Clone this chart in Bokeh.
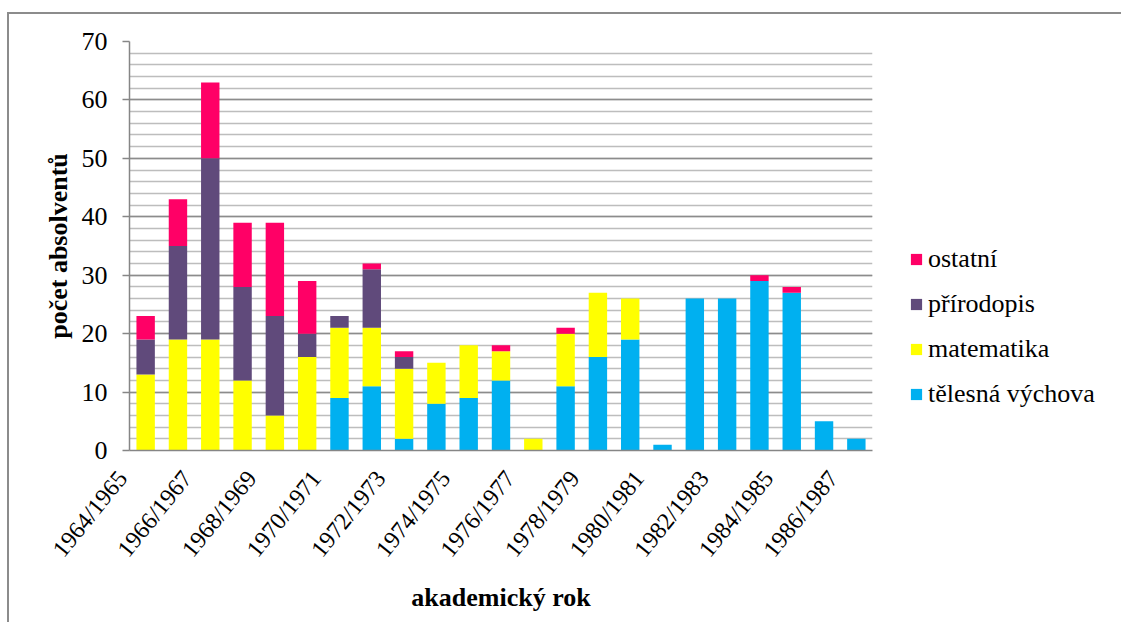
import numpy as np
from bokeh.plotting import figure
from bokeh.models import (ColumnDataSource, Range1d, FixedTicker, CustomJSTickFormatter,
                          Legend, LegendItem)
from bokeh.embed import file_html
from bokeh.resources import INLINE

years = ["1964/1965", "1965/1966", "1966/1967", "1967/1968", "1968/1969", "1969/1970",
         "1970/1971", "1971/1972", "1972/1973", "1973/1974", "1974/1975", "1975/1976",
         "1976/1977", "1977/1978", "1978/1979", "1979/1980", "1980/1981", "1981/1982",
         "1982/1983", "1983/1984", "1984/1985", "1985/1986", "1986/1987"]
telesna = [0, 0, 0, 0, 0, 0, 9, 11, 2, 8, 9, 12, 0, 11, 16, 19, 1, 26, 26, 29, 27, 5, 2]
matematika = [13, 19, 19, 12, 6, 16, 12, 10, 12, 7, 9, 5, 2, 9, 11, 7, 0, 0, 0, 0, 0, 0, 0]
prirodopis = [6, 16, 31, 16, 17, 4, 2, 10, 2, 0, 0, 0, 0, 0, 0, 0, 0, 0, 0, 0, 0, 0, 0]
ostatni = [4, 8, 13, 11, 16, 9, 0, 1, 1, 0, 0, 1, 0, 1, 0, 0, 0, 0, 0, 1, 1, 0, 0]

series = ["tělesná výchova", "matematika", "přírodopis", "ostatní"]
colors = ["#00B0F0", "#FFFF00", "#604A7B", "#FF0066"]
y_ticks = list(range(0, 71, 10))
y_minor = list(range(0, 71, 2))

src = ColumnDataSource(dict(x=list(range(len(years))), t=telesna, m=matematika,
                            p=prirodopis, o=ostatni))

FONT = "Liberation Serif"

p = figure(frame_width=743, frame_height=409, output_backend="svg", toolbar_location=None,
           x_range=Range1d(-0.5, len(years) - 0.5), y_range=Range1d(0, 70),
           min_border_left=120, min_border_right=0, min_border_top=27,
           min_border_bottom=172)
p.styles = {"margin-left": "7px", "margin-top": "12px",
            "border-left": "2px solid #8C8C8C", "border-top": "2px solid #8C8C8C"}
p.outline_line_color = None
p.background_fill_color = "white"
p.border_fill_color = "white"

rs = p.vbar_stack(["t", "m", "p", "o"], x="x", width=0.57, color=colors, source=src,
                  line_color=None)

# y axis
p.yaxis.ticker = FixedTicker(ticks=y_ticks, minor_ticks=y_minor)
p.yaxis.major_label_text_font = FONT
p.yaxis.major_label_text_font_size = "26px"
p.yaxis.major_label_text_color = "black"
p.yaxis.axis_line_color = "#868686"
p.yaxis.axis_line_width = 1.5
p.yaxis.major_tick_line_color = "#868686"
p.yaxis.major_tick_line_width = 1.5
p.yaxis.major_tick_in = 0
p.yaxis.major_tick_out = 7
p.yaxis.minor_tick_line_color = None
p.yaxis.major_label_standoff = 15
p.yaxis.axis_label = "počet absolventů"
p.yaxis.axis_label_text_font = FONT
p.yaxis.axis_label_text_font_style = "bold"
p.yaxis.axis_label_text_font_size = "26px"
p.yaxis.axis_label_text_color = "black"
p.yaxis.axis_label_standoff = 6

# x axis
offset = 0.49
p.xaxis.ticker = FixedTicker(ticks=[i - offset for i in range(0, len(years), 2)])
p.xaxis.formatter = CustomJSTickFormatter(
    args=dict(labels=years, off=offset),
    code="const s = labels[Math.round(tick + off)]; return s ? s + '\\u00a0\\u00a0' : '';")
p.xaxis.major_label_orientation = 0.89
p.xaxis.major_label_text_font = FONT
p.xaxis.major_label_text_font_size = "24px"
p.xaxis.major_label_text_color = "black"
p.xaxis.major_tick_line_color = None
p.xaxis.minor_tick_line_color = None
p.xaxis.axis_line_color = "#868686"
p.xaxis.axis_line_width = 1.5
p.xaxis.major_label_standoff = 8
p.xaxis.axis_label = "akademický rok"
p.xaxis.axis_label_text_font = FONT
p.xaxis.axis_label_text_font_style = "bold"
p.xaxis.axis_label_text_font_size = "26px"
p.xaxis.axis_label_text_color = "black"
p.xaxis.axis_label_standoff = 10

# grids
p.xgrid.grid_line_color = None
p.ygrid.grid_line_color = "#8C8C8C"
p.ygrid.grid_line_width = 1.5
p.ygrid.minor_grid_line_color = "#BDBDBD"
p.ygrid.minor_grid_line_width = 1.5
p.ygrid.level = "underlay"

# legend
items = [LegendItem(label=series[i], renderers=[rs[i]]) for i in reversed(range(4))]
leg = Legend(items=items, location=(37, 41), orientation="vertical")
leg.label_text_font = FONT
leg.label_text_font_size = "26px"
leg.label_text_color = "black"
leg.glyph_width = 14
leg.glyph_height = 14
leg.label_standoff = 5
leg.spacing = 15
leg.padding = 0
leg.margin = 0
leg.border_line_color = None
leg.background_fill_alpha = 0
p.add_layout(leg, "right")

open("out.html", "w").write(file_html(p, INLINE))
